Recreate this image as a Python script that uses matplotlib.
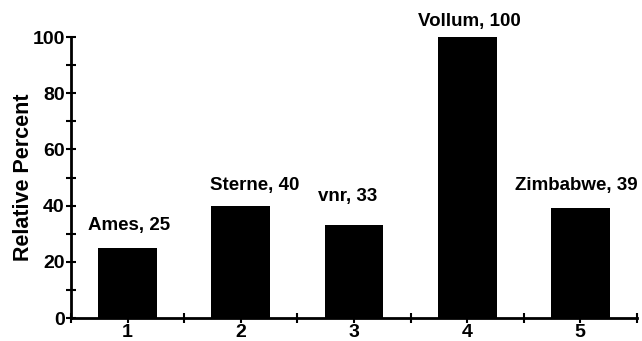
import matplotlib
matplotlib.use("Agg")
import matplotlib.pyplot as plt
from matplotlib.ticker import MultipleLocator

plt.rcParams['font.family'] = ['Liberation Sans', 'DejaVu Sans']
plt.rcParams['font.weight'] = 'bold'

positions = [1, 2, 3, 4, 5]
names = ["Ames", "Sterne", "vnr", "Vollum", "Zimbabwe"]
values = [25, 40, 33, 100, 39]
yticks = [0, 20, 40, 60, 80, 100]

# label nudges (pixels) relative to bar top centre
label_dx = [1.5, 14, -6, 2.5, -4]
label_dy = [18, 16, 24, 11, 18]

fig = plt.figure(figsize=(6.42, 3.41), dpi=100)
ax = fig.add_axes([0.1106, 0.0674, 0.8814, 0.8240])

ax.bar(positions, values, width=0.52, color='black', zorder=2)

for x, n, v, dx, dy in zip(positions, names, values, label_dx, label_dy):
    ax.annotate(f"{n}, {v}", xy=(x, v), xytext=(dx, dy), textcoords='offset pixels',
                ha='center', va='baseline', fontsize=13.5, fontweight='bold',
                annotation_clip=False)

ax.set_xlim(0.5, 5.5)
ax.set_ylim(0, 100)
ax.set_xticks(positions)
ax.set_yticks(yticks)
ax.xaxis.set_minor_locator(MultipleLocator(0.5))
ax.yaxis.set_minor_locator(MultipleLocator(10))

for s in ['top', 'right']:
    ax.spines[s].set_visible(False)
for s in ['left', 'bottom']:
    ax.spines[s].set_linewidth(2)

ax.tick_params(axis='both', which='both', direction='inout', width=1.5, length=7,
               labelsize=14)
ax.tick_params(axis='x', which='major', pad=1)
ax.tick_params(axis='y', which='major', pad=1)
for lab in ax.get_xticklabels() + ax.get_yticklabels():
    lab.set_fontweight('bold')

ax.set_ylabel("Relative Percent", fontsize=15.5, fontweight='bold', labelpad=-1)

fig.savefig("out.png", dpi=100)
